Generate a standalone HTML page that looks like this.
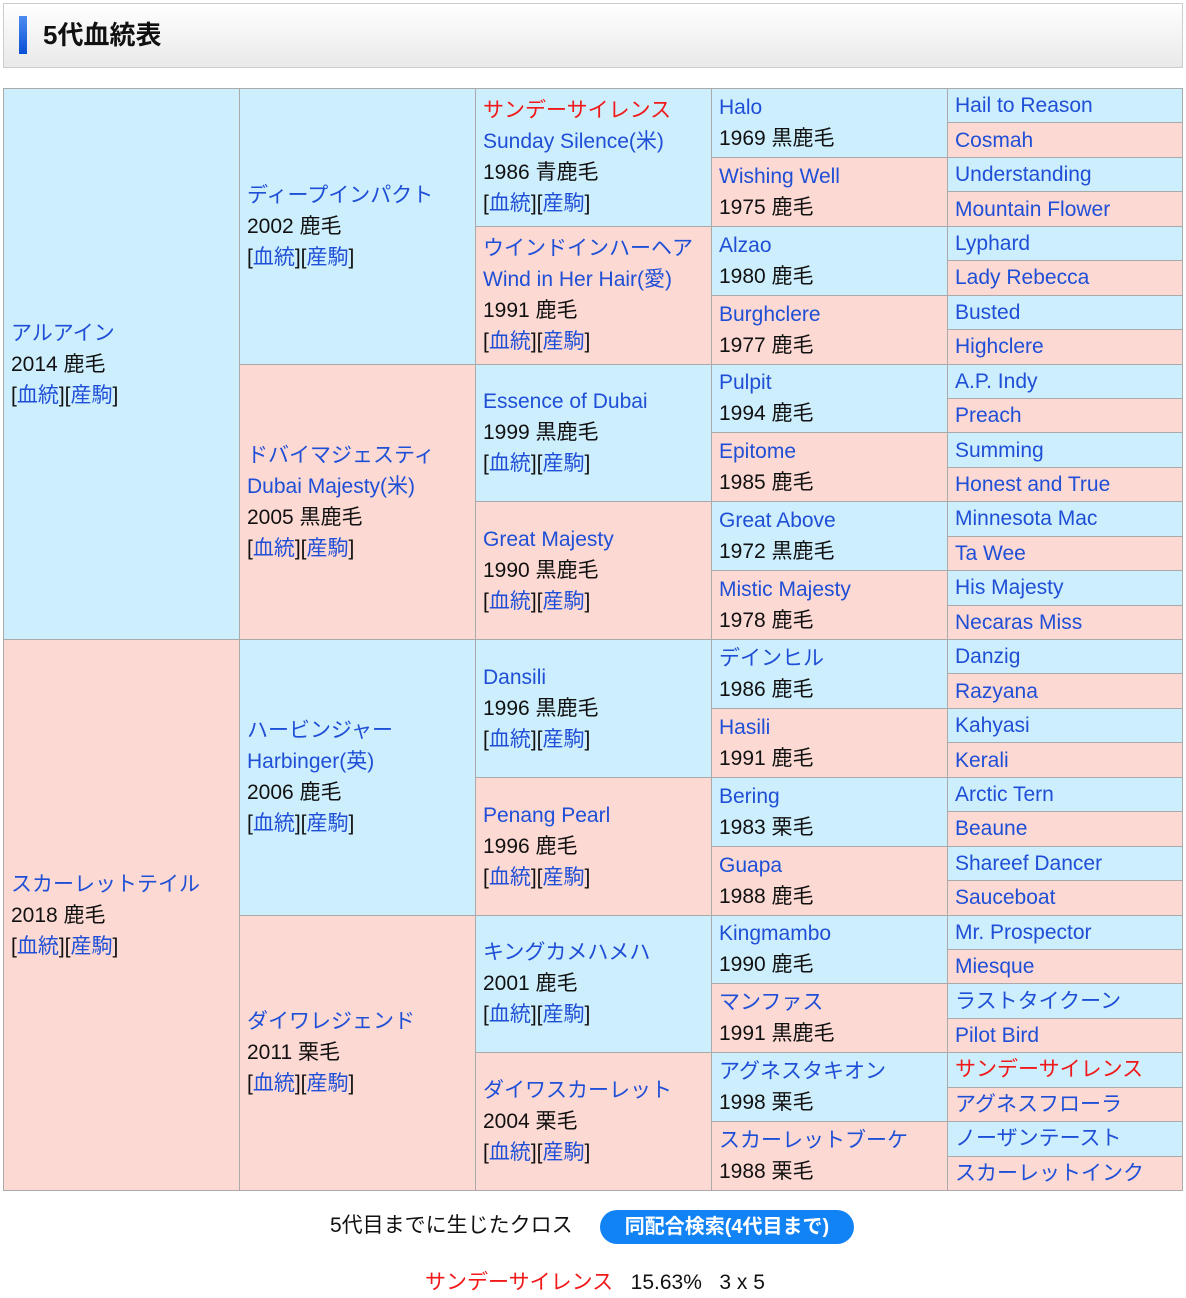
<!DOCTYPE html>
<html><head><meta charset="utf-8"><style>
body{margin:0;width:1186px;height:1298px;background:#fff;font-family:"Liberation Sans","Noto Sans CJK JP",sans-serif;position:relative;overflow:hidden}
.hd{position:absolute;left:3px;top:3px;width:1178px;height:63px;border:1px solid #ccc;background:linear-gradient(#fff,#e9e9e9);}
.hd .bar{position:absolute;left:15px;top:12px;width:8px;height:38px;background:linear-gradient(#4d8cf0,#0a4fd6)}
.hd .t{position:absolute;left:39px;top:14px;font-size:26px;font-weight:bold;color:#111;line-height:34px}
.tb{position:absolute;left:3px;top:88px;width:1180px;height:1103px;background:#aaa}
.c{position:absolute;box-sizing:border-box;padding-left:7px;display:flex;flex-direction:column;justify-content:center;font-size:21px;line-height:31px;color:#111;white-space:nowrap}
.b{background:#cdeefd}.p{background:#fdd9d3}
a{color:#1f4fd6;text-decoration:none}
.r{color:#f01818}
.k1{left:1px;width:235px}.k2{left:237px;width:235px}.k3{left:473px;width:235px}.k4{left:709px;width:235px}.k5{left:945px;width:234px}
.h16{height:calc(34.4375px*16 - 1px)}.h8{height:calc(34.4375px*8 - 1px)}.h4{height:calc(34.4375px*4 - 1px)}.h2{height:calc(34.4375px*2 - 1px)}.h1{height:calc(34.4375px - 1px)}
</style></head><body>
<div class="hd"><div class="bar"></div><div class="t">5代血統表</div></div>
<div class="tb">
<div class="c b k1 h16" style="top:1px"><a>アルアイン</a><div>2014 鹿毛</div><div>[<a>血統</a>][<a>産駒</a>]</div></div>
<div class="c p k1 h16" style="top:calc(34.4375px*16 + 1px)"><a>スカーレットテイル</a><div>2018 鹿毛</div><div>[<a>血統</a>][<a>産駒</a>]</div></div>

<div class="c b k2 h8" style="top:1px"><a>ディープインパクト</a><div>2002 鹿毛</div><div>[<a>血統</a>][<a>産駒</a>]</div></div>
<div class="c p k2 h8" style="top:calc(34.4375px*8 + 1px)"><a>ドバイマジェスティ</a><a>Dubai Majesty(米)</a><div>2005 黒鹿毛</div><div>[<a>血統</a>][<a>産駒</a>]</div></div>
<div class="c b k2 h8" style="top:calc(34.4375px*16 + 1px)"><a>ハービンジャー</a><a>Harbinger(英)</a><div>2006 鹿毛</div><div>[<a>血統</a>][<a>産駒</a>]</div></div>
<div class="c p k2 h8" style="top:calc(34.4375px*24 + 1px)"><a>ダイワレジェンド</a><div>2011 栗毛</div><div>[<a>血統</a>][<a>産駒</a>]</div></div>

<div class="c b k3 h4" style="top:1px"><span class="r">サンデーサイレンス</span><a>Sunday Silence(米)</a><div>1986 青鹿毛</div><div>[<a>血統</a>][<a>産駒</a>]</div></div>
<div class="c p k3 h4" style="top:calc(34.4375px*4 + 1px)"><a>ウインドインハーヘア</a><a>Wind in Her Hair(愛)</a><div>1991 鹿毛</div><div>[<a>血統</a>][<a>産駒</a>]</div></div>
<div class="c b k3 h4" style="top:calc(34.4375px*8 + 1px)"><a>Essence of Dubai</a><div>1999 黒鹿毛</div><div>[<a>血統</a>][<a>産駒</a>]</div></div>
<div class="c p k3 h4" style="top:calc(34.4375px*12 + 1px)"><a>Great Majesty</a><div>1990 黒鹿毛</div><div>[<a>血統</a>][<a>産駒</a>]</div></div>
<div class="c b k3 h4" style="top:calc(34.4375px*16 + 1px)"><a>Dansili</a><div>1996 黒鹿毛</div><div>[<a>血統</a>][<a>産駒</a>]</div></div>
<div class="c p k3 h4" style="top:calc(34.4375px*20 + 1px)"><a>Penang Pearl</a><div>1996 鹿毛</div><div>[<a>血統</a>][<a>産駒</a>]</div></div>
<div class="c b k3 h4" style="top:calc(34.4375px*24 + 1px)"><a>キングカメハメハ</a><div>2001 鹿毛</div><div>[<a>血統</a>][<a>産駒</a>]</div></div>
<div class="c p k3 h4" style="top:calc(34.4375px*28 + 1px)"><a>ダイワスカーレット</a><div>2004 栗毛</div><div>[<a>血統</a>][<a>産駒</a>]</div></div>

<div class="c b k4 h2" style="top:1px"><a>Halo</a><div>1969 黒鹿毛</div></div>
<div class="c p k4 h2" style="top:calc(34.4375px*2 + 1px)"><a>Wishing Well</a><div>1975 鹿毛</div></div>
<div class="c b k4 h2" style="top:calc(34.4375px*4 + 1px)"><a>Alzao</a><div>1980 鹿毛</div></div>
<div class="c p k4 h2" style="top:calc(34.4375px*6 + 1px)"><a>Burghclere</a><div>1977 鹿毛</div></div>
<div class="c b k4 h2" style="top:calc(34.4375px*8 + 1px)"><a>Pulpit</a><div>1994 鹿毛</div></div>
<div class="c p k4 h2" style="top:calc(34.4375px*10 + 1px)"><a>Epitome</a><div>1985 鹿毛</div></div>
<div class="c b k4 h2" style="top:calc(34.4375px*12 + 1px)"><a>Great Above</a><div>1972 黒鹿毛</div></div>
<div class="c p k4 h2" style="top:calc(34.4375px*14 + 1px)"><a>Mistic Majesty</a><div>1978 鹿毛</div></div>
<div class="c b k4 h2" style="top:calc(34.4375px*16 + 1px)"><a>デインヒル</a><div>1986 鹿毛</div></div>
<div class="c p k4 h2" style="top:calc(34.4375px*18 + 1px)"><a>Hasili</a><div>1991 鹿毛</div></div>
<div class="c b k4 h2" style="top:calc(34.4375px*20 + 1px)"><a>Bering</a><div>1983 栗毛</div></div>
<div class="c p k4 h2" style="top:calc(34.4375px*22 + 1px)"><a>Guapa</a><div>1988 鹿毛</div></div>
<div class="c b k4 h2" style="top:calc(34.4375px*24 + 1px)"><a>Kingmambo</a><div>1990 鹿毛</div></div>
<div class="c p k4 h2" style="top:calc(34.4375px*26 + 1px)"><a>マンファス</a><div>1991 黒鹿毛</div></div>
<div class="c b k4 h2" style="top:calc(34.4375px*28 + 1px)"><a>アグネスタキオン</a><div>1998 栗毛</div></div>
<div class="c p k4 h2" style="top:calc(34.4375px*30 + 1px)"><a>スカーレットブーケ</a><div>1988 栗毛</div></div>

<div class="c b k5 h1" style="top:1px"><a>Hail to Reason</a></div>
<div class="c p k5 h1" style="top:calc(34.4375px*1 + 1px)"><a>Cosmah</a></div>
<div class="c b k5 h1" style="top:calc(34.4375px*2 + 1px)"><a>Understanding</a></div>
<div class="c p k5 h1" style="top:calc(34.4375px*3 + 1px)"><a>Mountain Flower</a></div>
<div class="c b k5 h1" style="top:calc(34.4375px*4 + 1px)"><a>Lyphard</a></div>
<div class="c p k5 h1" style="top:calc(34.4375px*5 + 1px)"><a>Lady Rebecca</a></div>
<div class="c b k5 h1" style="top:calc(34.4375px*6 + 1px)"><a>Busted</a></div>
<div class="c p k5 h1" style="top:calc(34.4375px*7 + 1px)"><a>Highclere</a></div>
<div class="c b k5 h1" style="top:calc(34.4375px*8 + 1px)"><a>A.P. Indy</a></div>
<div class="c p k5 h1" style="top:calc(34.4375px*9 + 1px)"><a>Preach</a></div>
<div class="c b k5 h1" style="top:calc(34.4375px*10 + 1px)"><a>Summing</a></div>
<div class="c p k5 h1" style="top:calc(34.4375px*11 + 1px)"><a>Honest and True</a></div>
<div class="c b k5 h1" style="top:calc(34.4375px*12 + 1px)"><a>Minnesota Mac</a></div>
<div class="c p k5 h1" style="top:calc(34.4375px*13 + 1px)"><a>Ta Wee</a></div>
<div class="c b k5 h1" style="top:calc(34.4375px*14 + 1px)"><a>His Majesty</a></div>
<div class="c p k5 h1" style="top:calc(34.4375px*15 + 1px)"><a>Necaras Miss</a></div>
<div class="c b k5 h1" style="top:calc(34.4375px*16 + 1px)"><a>Danzig</a></div>
<div class="c p k5 h1" style="top:calc(34.4375px*17 + 1px)"><a>Razyana</a></div>
<div class="c b k5 h1" style="top:calc(34.4375px*18 + 1px)"><a>Kahyasi</a></div>
<div class="c p k5 h1" style="top:calc(34.4375px*19 + 1px)"><a>Kerali</a></div>
<div class="c b k5 h1" style="top:calc(34.4375px*20 + 1px)"><a>Arctic Tern</a></div>
<div class="c p k5 h1" style="top:calc(34.4375px*21 + 1px)"><a>Beaune</a></div>
<div class="c b k5 h1" style="top:calc(34.4375px*22 + 1px)"><a>Shareef Dancer</a></div>
<div class="c p k5 h1" style="top:calc(34.4375px*23 + 1px)"><a>Sauceboat</a></div>
<div class="c b k5 h1" style="top:calc(34.4375px*24 + 1px)"><a>Mr. Prospector</a></div>
<div class="c p k5 h1" style="top:calc(34.4375px*25 + 1px)"><a>Miesque</a></div>
<div class="c b k5 h1" style="top:calc(34.4375px*26 + 1px)"><a>ラストタイクーン</a></div>
<div class="c p k5 h1" style="top:calc(34.4375px*27 + 1px)"><a>Pilot Bird</a></div>
<div class="c b k5 h1" style="top:calc(34.4375px*28 + 1px)"><span class="r">サンデーサイレンス</span></div>
<div class="c p k5 h1" style="top:calc(34.4375px*29 + 1px)"><a>アグネスフローラ</a></div>
<div class="c b k5 h1" style="top:calc(34.4375px*30 + 1px)"><a>ノーザンテースト</a></div>
<div class="c p k5 h1" style="top:calc(34.4375px*31 + 1px)"><a>スカーレットインク</a></div>
</div>
<div style="position:absolute;left:330px;top:1211px;font-size:21px;line-height:30px;color:#111">5代目までに生じたクロス</div>
<div style="position:absolute;left:600px;top:1210px;width:254px;height:34px;border-radius:17px;background:#1283f5;color:#fff;font-size:20px;font-weight:bold;line-height:34px;text-align:center">同配合検索(4代目まで)</div>
<div style="position:absolute;left:425px;top:1268px;font-size:21px;line-height:30px;color:#111;white-space:nowrap"><span class="r">サンデーサイレンス</span>&nbsp;&nbsp; 15.63%&nbsp;&nbsp; 3 x 5</div>
</body></html>
